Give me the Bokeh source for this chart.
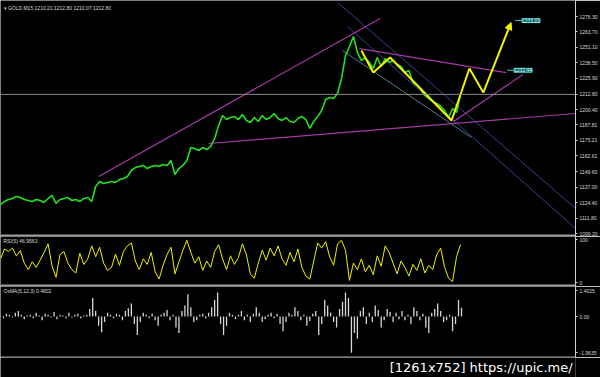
from bokeh.plotting import figure
from bokeh.layouts import column
from bokeh.models import Range1d, FixedTicker, PrintfTickFormatter, Span, Label, Arrow, NormalHead
from bokeh.embed import file_html
from bokeh.resources import INLINE
from bokeh.core.properties import value

# ---------------- data ----------------
header_text = "▾ GOLD,M15  1210.21 1212.80 1210.07 1212.80"
rsi_title = "RSI(5) 46.9563"
osma_title = "OsMA(5,12,3) 0.4802"
footer_text = "[1261x752] https://upic.me/"

price = [1122.9, 1125.4, 1127.0, 1127.8, 1129.5, 1128.6, 1127.0, 1126.2, 1125.4, 1127.0,
         1126.2, 1124.6, 1127.8, 1130.3, 1123.8, 1127.0, 1127.8, 1128.6, 1126.2, 1127.0,
         1125.4, 1127.8, 1128.6, 1125.4, 1137.6, 1141.7, 1140.1, 1140.9, 1141.7, 1140.9,
         1143.3, 1144.2, 1145.8, 1150.7, 1153.1, 1153.9, 1154.8, 1152.3, 1153.9, 1154.8,
         1153.9, 1155.6, 1154.8, 1158.8, 1147.4, 1152.3, 1154.8, 1158.8, 1169.4, 1168.6,
         1167.0, 1169.4, 1167.8, 1170.3, 1176.8, 1187.4, 1195.6, 1192.3, 1193.9, 1194.7,
         1192.3, 1196.4, 1191.5, 1189.8, 1193.9, 1190.7, 1195.6, 1192.3, 1193.9, 1197.2,
         1193.1, 1191.5, 1193.9, 1190.7, 1189.8, 1193.1, 1194.7, 1192.3, 1185.0, 1190.7,
         1194.7, 1199.6, 1208.6, 1210.3, 1209.4, 1213.5, 1225.8, 1244.5, 1251.9, 1260.0,
         1247.0, 1240.4, 1242.9, 1238.8, 1233.9, 1242.9, 1235.5, 1242.1, 1238.8, 1240.4,
         1237.2, 1235.5, 1230.6, 1232.3, 1222.5, 1220.0, 1216.8, 1211.9, 1209.4, 1207.0,
         1205.4, 1202.9, 1199.6, 1193.9, 1201.3, 1198.0, 1212.8]
price_x = [i * 4 for i in range(len(price))]
last_price = 1212.80

price_ticks = [1276.30, 1263.70, 1251.10, 1238.50, 1225.90, 1212.80, 1200.40, 1187.81,
               1175.21, 1162.61, 1149.60, 1137.00, 1124.40, 1111.80, 1099.20]

# trend lines (bar index, price)
magenta_x0 = [99, 210, 362, 457]
magenta_y0 = [1145.8, 1172.7, 1250.2, 1190.7]
magenta_x1 = [383, 580, 510, 527]
magenta_y1 = [1274.7, 1197.2, 1230.6, 1229.0]

blue_x0 = [340, 350]
blue_y0 = [1287.8, 1268.2]
blue_x1 = [580, 580]
blue_y1 = [1119.7, 1103.4]

teal_x0 = [345]
teal_y0 = [1248.6]
teal_x1 = [475]
teal_y1 = [1177.6]

# projected zigzag
zz_x = [364, 376, 393, 455, 473, 487]
zz_y = [1248.6, 1230.6, 1242.9, 1191.5, 1233.9, 1214.3]
arrow_x = [487, 515]
arrow_y = [1214.3, 1271.4]

target_x = [526, 518]
target_y = [1273.01, 1232.44]
target_txt = ["1273.01", "1232.44"]

rsi = [55, 78, 72, 80, 62, 74, 45, 30, 48, 35, 52, 70, 90, 38, 12, 65, 72, 45, 30, 22,
       68, 42, 55, 85, 60, 82, 45, 28, 35, 66, 40, 72, 85, 92, 50, 30, 55, 42, 70, 25,
       8, 40, 65, 82, 20, 48, 75, 98, 70, 45, 60, 28, 50, 35, 72, 88, 55, 30, 62, 42,
       58, 90, 65, 20, 10, 45, 75, 52, 80, 62, 85, 55, 40, 70, 48, 78, 35, 15, 8, 50,
       92, 80, 95, 60, 40, 90, 98, 75, 5, 45, 30, 55, 25, 40, 18, 62, 38, 85, 70, 45,
       20, 50, 35, 15, 42, 28, 55, 22, 40, 30, 65, 80, 35, 10, 2, 60, 88]
rsi_x = [i * 4 for i in range(len(rsi))]
rsi_ticks = [100, 0]

osma = [0.05, -0.1, 0.15, 0.1, -0.05, 0.2, 0.3, 0.1, -0.15, 0.05,
        0.1, -0.1, 0.2, 0.05, -0.2, 0.15, 0.1, -0.05, 0.25, -0.15,
        0.1, 0.05, -0.1, 0.2, -0.05, 0.1, 0.15, -0.1, 0.05, 0.1,
        0.4, 1.0, 0.3, -0.5, -0.85, -0.3, 0.2, 0.1, -0.1, 0.15,
        0.1, -0.2, 0.3, 0.45, 0.7, -0.4, -1.0, -0.3, 0.2, 0.1,
        -0.1, 0.15, -0.2, -0.5, 0.1, 0.2, 0.35, -0.2, 0.1, -0.6,
        -0.9, 0.3, 0.6, 1.2, 0.5, -0.3, -0.2, 0.1, 0.15, -0.1,
        0.2, 0.5, 0.9, 1.3, -0.4, -1.0, -0.5, 0.2, 0.1, -0.15,
        0.1, 0.3, -0.2, 0.1, -0.3, 0.15, 0.5, 0.2, -0.3, -0.15,
        0.1, 0.2, -0.1, 0.15, -0.4, -0.8, -0.3, 0.2, 0.1, 0.5,
        0.3, -0.2, 0.1, -0.5, -0.25, 0.15, 0.3, -1.0, -0.4, 0.9,
        0.6, 0.2, -0.3, -0.6, 0.4, 0.8, 1.3, 1.0, -1.96, -0.9,
        -1.2, 0.3, 0.5, -0.4, 0.2, -0.3, 0.6, 0.35, -0.6, -0.2,
        0.4, 0.25, -0.3, 0.2, -0.15, 0.3, -0.2, 0.1, -0.4, 0.5,
        0.3, -0.2, 0.15, -0.6, -0.9, 0.2, 0.4, 0.7, 0.3, -0.3,
        -0.2, 0.1, -0.8, -0.4, 0.9, 0.48]
osma_x = [i * 3 for i in range(len(osma))]
osma_ticks = [1.4025, 0.0, -1.9635]
osma_labels = {1.4025: "1.4025", 0.0: "0.00", -1.9635: "-1.9635"}

# ---------------- figures ----------------
FONT = "Liberation Sans"
xr = Range1d(0, 580)


def panel(h, y0, y1, ticks):
    p = figure(width=600, height=h, x_range=xr, y_range=Range1d(y0, y1),
               output_backend="svg", toolbar_location=None,
               x_axis_location=None, y_axis_location="right")
    p.background_fill_color = "black"
    p.border_fill_color = "black"
    p.outline_line_color = None
    p.grid.visible = False
    p.min_border_left = 0
    p.min_border_top = 0
    p.min_border_bottom = 0
    p.min_border_right = 22
    ax = p.yaxis[0]
    ax.ticker = FixedTicker(ticks=ticks)
    ax.axis_line_color = "#d0d0d0"
    ax.major_tick_line_color = "#d0d0d0"
    ax.minor_tick_line_color = None
    ax.major_tick_out = 2
    ax.major_tick_in = 0
    ax.major_label_standoff = 2
    ax.major_label_text_font = FONT
    ax.major_label_text_font_size = "5px"
    ax.major_label_text_color = "#d8d8d8"
    return p


# main price panel
p1 = panel(236, 1096.82, 1289.4, price_ticks)
p1.yaxis[0].formatter = PrintfTickFormatter(format="%.2f")
p1.add_layout(Span(location=last_price, dimension="width", line_color="#8a8a8a", line_width=1))
p1.segment(blue_x0, blue_y0, blue_x1, blue_y1, line_color="#35448c", line_width=1)
p1.segment(teal_x0, teal_y0, teal_x1, teal_y1, line_color="#4c7d92", line_width=1)
p1.segment(magenta_x0, magenta_y0, magenta_x1, magenta_y1, line_color="#a43aa4", line_width=1.2)
p1.line(price_x, price, line_color="#22e022", line_width=1.6)
p1.line(zz_x, zz_y, line_color="#f2f200", line_width=2)
p1.add_layout(Arrow(end=NormalHead(size=7, fill_color="#f2f200", line_color="#f2f200"),
                    x_start=arrow_x[0], y_start=arrow_y[0], x_end=arrow_x[1], y_end=arrow_y[1],
                    line_color="#f2f200", line_width=2))
p1.segment([x - 7 for x in target_x], target_y, target_x, target_y, line_color="#40c0c0", line_width=1)
for tx, ty, tt in zip(target_x, target_y, target_txt):
    p1.add_layout(Label(x=tx, y=ty, text=tt, text_font=FONT, text_font_size="5px",
                        text_color="#c8ffff", text_baseline="middle",
                        background_fill_color="#155c5c", border_line_color="#50d0d0"))
p1.add_layout(Span(location=1097.6, dimension="width", line_color="#9c9c9c", line_width=2))
p1.add_layout(Label(x=3, y=229, x_units="screen", y_units="screen", text=header_text,
                    text_font=FONT, text_font_size="5px", text_color="#d8d8d8",
                    text_baseline="middle"))

# RSI panel
p2 = panel(50, -9.3, 106.98, rsi_ticks)
p2.line(rsi_x, rsi, line_color="#f0f000", line_width=1)
p2.add_layout(Span(location=-6.95, dimension="width", line_color="#9c9c9c", line_width=2))
p2.add_layout(Label(x=3, y=46, x_units="screen", y_units="screen", text=rsi_title,
                    text_font=FONT, text_font_size="5px", text_color="#d8d8d8",
                    text_baseline="middle"))

# OsMA panel
p3 = panel(71, -2.222, 1.626, osma_ticks)
p3.yaxis[0].major_label_overrides = osma_labels
p3.vbar(x=osma_x, top=osma, bottom=0, width=1.3, fill_color="#d8d8d8", line_color=None)
p3.add_layout(Span(location=-2.195, dimension="width", line_color="#9c9c9c", line_width=1))
p3.add_layout(Label(x=3, y=67, x_units="screen", y_units="screen", text=osma_title,
                    text_font=FONT, text_font_size="5px", text_color="#d8d8d8",
                    text_baseline="middle"))

# footer strip
p4 = figure(width=600, height=20, x_range=Range1d(0, 600), y_range=Range1d(0, 20),
            output_backend="svg", toolbar_location=None,
            x_axis_location=None, y_axis_location=None)
p4.background_fill_color = "black"
p4.border_fill_color = "black"
p4.outline_line_color = None
p4.grid.visible = False
p4.min_border = 0
p4.text(x=[597], y=[3], text=[footer_text], text_align="right", text_baseline="bottom",
        text_color="#ffffff", text_font=value("DejaVu Sans"), text_font_size="13px")

layout = column(p1, p2, p3, p4, spacing=0)
open("out.html", "w").write(file_html(layout, INLINE))
